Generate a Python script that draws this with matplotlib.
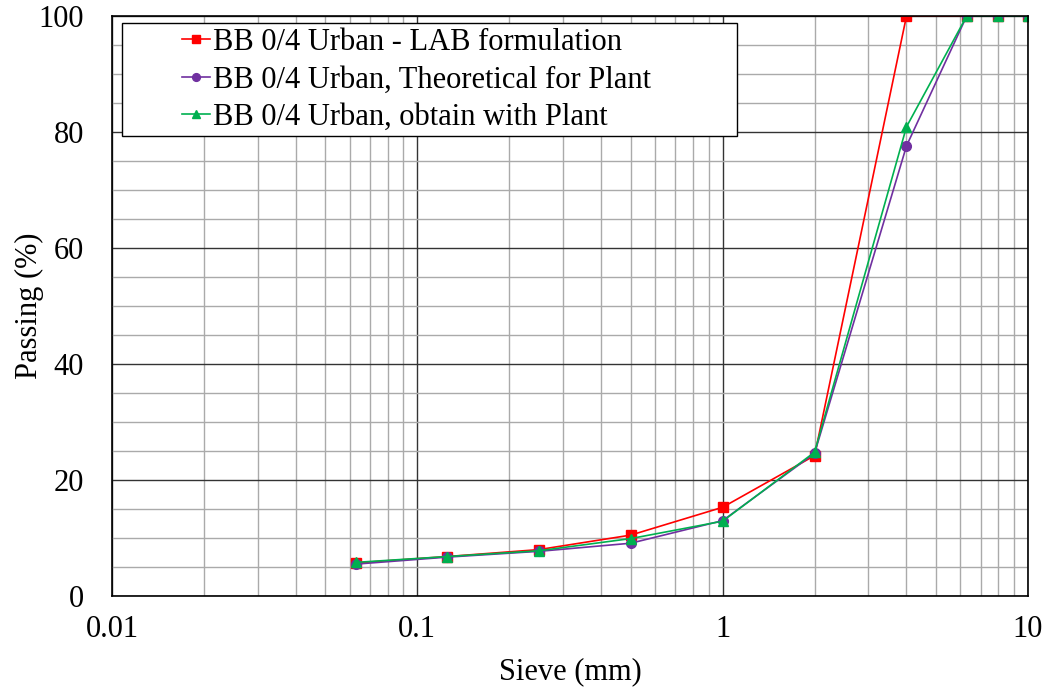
import numpy as np
import matplotlib
matplotlib.use("Agg")
from matplotlib import pyplot as plt
from matplotlib.ticker import LogLocator, MultipleLocator, FixedLocator
from matplotlib.patches import Rectangle

plt.rcParams['font.family'] = ['Liberation Serif', 'DejaVu Serif']

sieve = [0.063, 0.125, 0.25, 0.5, 1, 2, 4, 6.3, 8, 10]
lab = [5.7, 6.8, 8.0, 10.5, 15.3, 24.2, 100, 100, 100, 100]
theoretical = [5.5, 6.7, 7.7, 9.1, 13.0, 24.6, 77.6, 100, 100, 100]
plant = [5.8, 6.8, 7.8, 9.9, 12.9, 24.8, 80.9, 100, 100, 100]

labels = ["BB 0/4 Urban - LAB formulation",
          "BB 0/4 Urban, Theoretical for Plant",
          "BB 0/4 Urban, obtain with Plant"]

W, H = 1047, 689
fig = plt.figure(figsize=(W / 100, H / 100), dpi=100)
ax = fig.add_axes([112 / W, 93 / H, 916 / W, 580 / H])

ax.plot(sieve, lab, color="#ff0000", marker="s", ms=7, lw=1.2, label=labels[0])
ax.plot(sieve, theoretical, color="#7030a0", marker="o", ms=7, lw=1.2, label=labels[1])
ax.plot(sieve, plant, color="#00b050", marker="^", ms=7, lw=1.2, label=labels[2])

ax.set_xscale("log")
ax.set_xlim(0.01, 10)
ax.set_ylim(0, 100)
ax.xaxis.set_major_locator(FixedLocator([0.01, 0.1, 1, 10]))
ax.xaxis.set_major_formatter(matplotlib.ticker.FixedFormatter(["0.01", "0.1", "1", "10"]))
ax.xaxis.set_minor_locator(LogLocator(base=10, subs=np.arange(2, 10)))
ax.xaxis.set_minor_formatter(matplotlib.ticker.NullFormatter())
ax.yaxis.set_major_locator(MultipleLocator(20))
ax.yaxis.set_minor_locator(MultipleLocator(5))

ax.grid(which="major", color="#333333", lw=1.0)
ax.grid(which="minor", color="#aaaaaa", lw=1.0)
ax.set_axisbelow(True)
ax.tick_params(which="both", length=0, labelsize=22)
ax.tick_params(axis="x", pad=14)
ax.tick_params(axis="y", pad=20)
for s in ax.spines.values():
    s.set_color("#000000")
    s.set_linewidth(1.2)

ax.set_xlabel("Sieve (mm)", fontsize=22, labelpad=9)
ax.set_ylabel("Passing (%)", fontsize=22, labelpad=-4)

# legend box (frame drawn separately, sized like the original)
box = Rectangle((122 / W, 1 - 136 / H), (737 - 122) / W, (136 - 23) / H,
                transform=fig.transFigure, facecolor="white", edgecolor="black",
                lw=1.0, zorder=4, clip_on=False)
ax.add_patch(box)
leg = ax.legend(loc="upper left", bbox_to_anchor=(182 / W, 1 - 28 / H),
                bbox_transform=fig.transFigure, fontsize=22, frameon=False,
                handlelength=0.9, handletextpad=0.1, markerscale=0.8,
                borderpad=0, labelspacing=0.28, borderaxespad=0)
leg.set_zorder(5)

fig.savefig("out.png", dpi=100)
